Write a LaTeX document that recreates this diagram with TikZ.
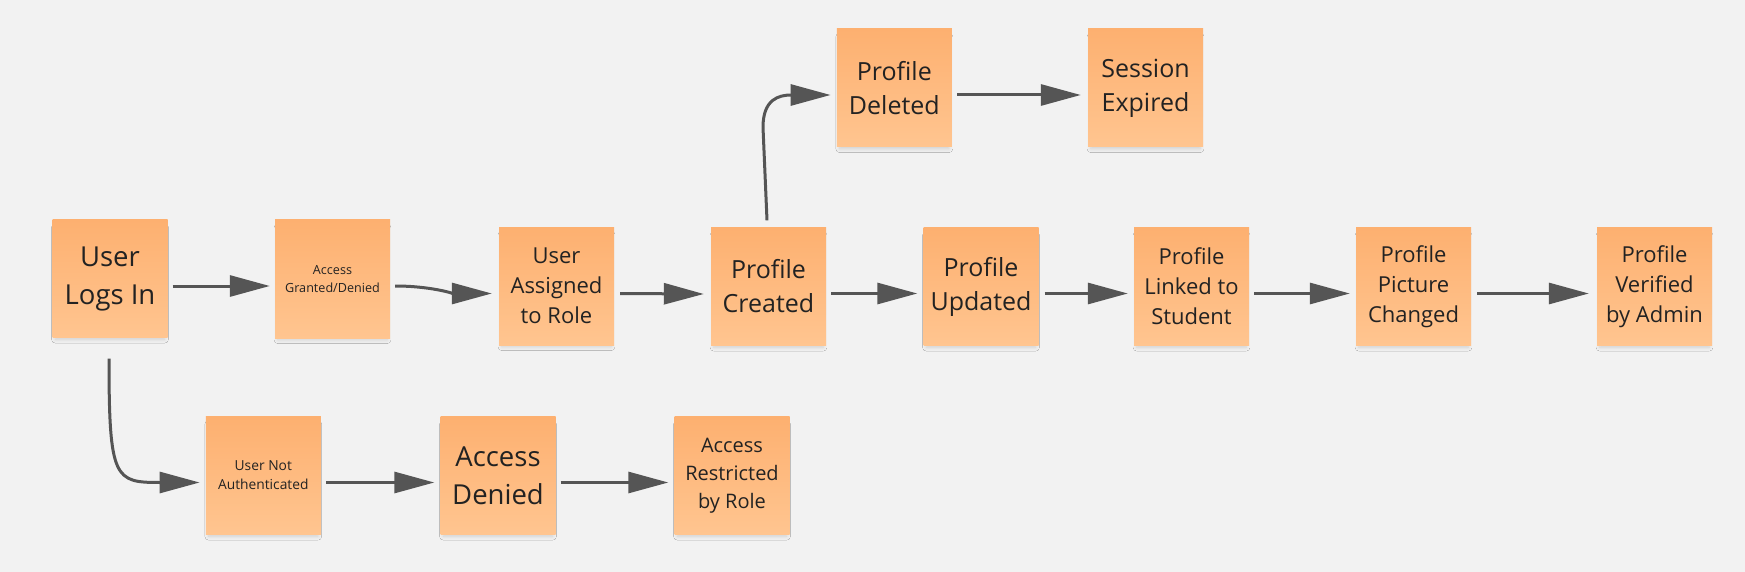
\documentclass[tikz,border=0pt]{standalone}
\usepackage{fontspec}
\setmainfont{Open Sans}
\usetikzlibrary{arrows.meta,calc,shadows.blur}
\definecolor{bgcol}{HTML}{F2F2F2}
\definecolor{ntop}{HTML}{FDB070}
\definecolor{nbot}{HTML}{FFC590}
\definecolor{txtcol}{HTML}{222222}
\definecolor{arrowgray}{HTML}{555555}
\begin{document}
\begin{tikzpicture}[x=1pt,y=-1pt,
  sticky/.style={minimum width=115pt, minimum height=118pt, inner sep=0pt, align=center,
    top color=ntop, bottom color=nbot, text=txtcol,
    blur shadow={shadow xshift=0pt, shadow yshift=-5pt, shadow scale=0.95, shadow blur radius=4pt, shadow opacity=15, shadow blur steps=6}},
  fxl/.style={font=\fontsize{27.5}{38}\selectfont},
  fl/.style={font=\fontsize{25}{34}\selectfont},
  fm/.style={font=\fontsize{22}{30}\selectfont},
  fs/.style={font=\fontsize{20}{28}\selectfont},
  fxs/.style={font=\fontsize{13.8}{19}\selectfont},
  fxxs/.style={font=\fontsize{12.6}{17.3}\selectfont},
  flowline/.style={draw=arrowgray, line width=3pt, -{Triangle[length=40pt,width=21pt]}}
]
\fill[bgcol] (0,0) rectangle (1745,572);
\useasboundingbox (0,0) rectangle (1745,572);

\node[sticky,fxl]  (login)      at (110,278.5)   {User\\Logs In};
\node[sticky,fxxs] (agd)        at (332.5,279)   {Access\\Granted/Denied};
\node[sticky,fm]   (assigned)   at (556.5,286)   {User\\Assigned\\to Role};
\node[sticky,fl]   (created)    at (768.5,286.5) {Profile\\Created};
\node[sticky,fl]   (updated)    at (981,286.5)   {Profile\\Updated};
\node[sticky,fm]   (linked)     at (1191.5,286.5) {Profile\\Linked to\\Student};
\node[sticky,fm]   (picture)    at (1413.5,286.5) {Profile\\Picture\\Changed};
\node[sticky,fm]   (verified)   at (1654.5,286.5) {Profile\\Verified\\by Admin};
\node[sticky,fl]   (deleted)    at (894.3,88)    {Profile\\Deleted};
\node[sticky,fl]   (session)    at (1145.5,88)   {Session\\Expired};
\node[sticky,fxs]  (notauth)    at (263.3,475.5) {User Not\\Authenticated};
\node[sticky,fxl]  (denied)     at (498,475.5)   {Access\\Denied};
\node[sticky,fs]   (restricted) at (732,475.5)   {Access\\Restricted\\by Role};

\draw[flowline] ($(login.east)+(5,7.5)$) -- ($(agd.west)+(-5,7)$);
\draw[flowline] ($(agd.east)+(5,7)$) .. controls ($(agd.east)+(40,7)$) and ($(assigned.west)+(-45,7.5)$) .. ($(assigned.west)+(-7,7.5)$);
\draw[flowline] ($(assigned.east)+(6,7.5)$) -- ($(created.west)+(-7,7.5)$);
\draw[flowline] ($(created.east)+(5,7)$) -- ($(updated.west)+(-6,7)$);
\draw[flowline] ($(updated.east)+(6,7)$) -- ($(linked.west)+(-6,7)$);
\draw[flowline] ($(linked.east)+(5,7)$) -- ($(picture.west)+(-6,7)$);
\draw[flowline] ($(picture.east)+(6,7)$) -- ($(verified.west)+(-8,7)$);
\draw[flowline] ($(deleted.east)+(5,7)$) -- ($(session.west)+(-7,7)$);
\draw[flowline] ($(notauth.east)+(5,7)$) -- ($(denied.west)+(-6,7)$);
\draw[flowline] ($(denied.east)+(5,7)$) -- ($(restricted.west)+(-6,7)$);

\draw[flowline] ($(created.north)+(-1.5,-7)$) -- ($(created.north)+(-5.5,-100)$)
   .. controls ($(created.north)+(-5.5,-128)$) and ($(deleted.west)+(-58,7)$) .. ($(deleted.west)+(-6,7)$);
\draw[flowline] ($(login.south)+(-1,21)$) .. controls ($(login.south)+(-1,142)$) and ($(notauth.west)+(-91,7)$) .. ($(notauth.west)+(-6,7)$);
\end{tikzpicture}
\end{document}
